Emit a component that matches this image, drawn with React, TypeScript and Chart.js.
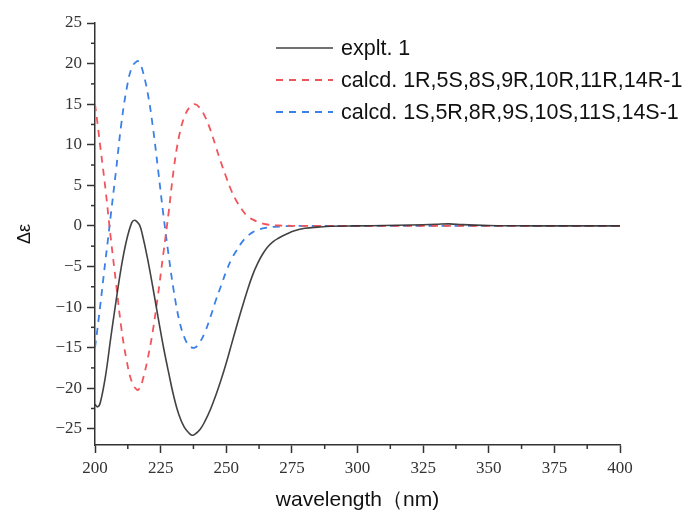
import { useEffect, useRef } from 'react';
import { Chart, registerables } from 'chart.js';

Chart.register(...registerables);

const wlExp = [200, 201, 202, 204, 206, 208, 210, 212, 214, 215, 216, 217, 218, 220, 222, 224, 226, 228, 230, 232, 234, 236, 237, 238, 240, 242, 244, 246, 248, 250, 252, 254, 256, 258, 260, 262, 264, 266, 268, 270, 273, 276, 280, 285, 290, 300, 310, 320, 330, 335, 340, 350, 360, 375, 390, 400];
const valExp = [-22.0, -22.3, -21.8, -18.5, -13.8, -9.3, -5.1, -1.8, 0.4, 0.7, 0.5, 0.1, -1.0, -4.0, -7.5, -11.2, -14.8, -18.0, -21.0, -23.3, -24.8, -25.6, -25.8, -25.7, -25.1, -24.0, -22.6, -20.9, -19.0, -16.9, -14.6, -12.3, -10.1, -8.0, -6.1, -4.6, -3.4, -2.5, -1.9, -1.5, -1.0, -0.6, -0.3, -0.15, -0.05, 0, 0.05, 0.1, 0.2, 0.25, 0.15, 0.05, 0.02, 0, 0, 0];

const wlCalc = [200, 201, 202, 203, 204, 205, 206, 208, 210, 212, 214, 216, 217, 218, 220, 222, 224, 226, 228, 230, 232, 234, 236, 238, 240, 242, 244, 246, 248, 250, 252, 254, 256, 258, 260, 262, 265, 270, 280, 300, 340, 400];
const valRS = [15.0, 12.5, 9.8, 7.2, 4.5, 1.5, -1.5, -7.0, -12.5, -16.5, -19.2, -20.2, -20.0, -19.2, -16.5, -13.0, -8.5, -3.5, 1.5, 7.0, 11.0, 13.4, 14.6, 15.0, 14.5, 13.4, 11.8, 9.8, 7.8, 6.0, 4.3, 3.0, 2.0, 1.2, 0.8, 0.5, 0.2, 0.05, 0, 0, 0, 0];
const valSR = [-15.0, -12.5, -9.8, -7.0, -4.2, -1.5, 1.3, 6.8, 12.5, 16.8, 19.5, 20.3, 20.1, 19.3, 16.5, 12.3, 7.0, 1.5, -3.5, -8.0, -11.5, -13.7, -14.8, -15.0, -14.3, -13.0, -11.2, -9.2, -7.4, -5.6, -4.1, -3.0, -2.0, -1.3, -0.8, -0.5, -0.25, -0.08, 0, 0, 0, 0];

const seriesLabels = ['explt. 1', 'calcd. 1R,5S,8S,9R,10R,11R,14R-1', 'calcd. 1S,5R,8R,9S,10S,11S,14S-1'];
const xMajorTicks = [200, 225, 250, 275, 300, 325, 350, 375, 400];
const yMajorTicks = [-25, -20, -15, -10, -5, 0, 5, 10, 15, 20, 25];

const toPts = (xs: number[], ys: number[]) => xs.map((x, i) => ({ x, y: ys[i] }));

const axisColor = '#333333';

const extrasPlugin = {
  id: 'extras',
  afterDraw(chart: any) {
    const ctx = chart.ctx;
    const xs = chart.scales.x;
    const ys = chart.scales.y;
    const area = chart.chartArea;
    ctx.save();
    ctx.strokeStyle = axisColor;
    ctx.lineWidth = 1.5;
    for (let i = 0; i < xMajorTicks.length - 1; i++) {
      const v = (xMajorTicks[i] + xMajorTicks[i + 1]) / 2;
      const px = xs.getPixelForValue(v);
      ctx.beginPath();
      ctx.moveTo(px, area.bottom);
      ctx.lineTo(px, area.bottom + 4);
      ctx.stroke();
    }
    for (let i = 0; i < yMajorTicks.length - 1; i++) {
      const v = (yMajorTicks[i] + yMajorTicks[i + 1]) / 2;
      const py = ys.getPixelForValue(v);
      ctx.beginPath();
      ctx.moveTo(area.left, py);
      ctx.lineTo(area.left - 4, py);
      ctx.stroke();
    }
    // legend
    const rows = [48, 80, 112];
    const x0 = 276, x1 = 333, tx = 341;
    ctx.font = '21.5px "Liberation Sans", Arial, sans-serif';
    ctx.textBaseline = 'middle';
    ctx.textAlign = 'left';
    chart.data.datasets.forEach((ds: any, i: number) => {
      const y = rows[i];
      ctx.strokeStyle = ds.borderColor;
      ctx.lineWidth = ds.borderWidth;
      ctx.setLineDash(ds.borderDash || []);
      ctx.beginPath();
      ctx.moveTo(x0, y);
      ctx.lineTo(x1, y);
      ctx.stroke();
      ctx.setLineDash([]);
      ctx.fillStyle = '#111';
      ctx.fillText(ds.label, tx, y + 1);
    });
    ctx.restore();
  },
};

const fmt = (v: number) => (v < 0 ? '\u2212' + Math.abs(v) : String(v));

export default function App() {
  const ref = useRef<HTMLCanvasElement | null>(null);
  useEffect(() => {
    document.body.style.margin = '0';
    const canvas = ref.current!;
    const tickFont = { family: '"Liberation Serif", "Times New Roman", serif', size: 17 };
    const chart = new Chart(canvas, {
      type: 'line',
      data: {
        datasets: [
          {
            label: seriesLabels[0],
            data: toPts(wlExp, valExp),
            borderColor: 'rgba(45,45,45,0.9)',
            borderWidth: 1.6,
            pointRadius: 0,
            tension: 0.4,
          },
          {
            label: seriesLabels[1],
            data: toPts(wlCalc, valRS),
            borderColor: '#f2545b',
            borderWidth: 1.8,
            borderDash: [7, 6],
            pointRadius: 0,
            tension: 0.4,
          },
          {
            label: seriesLabels[2],
            data: toPts(wlCalc, valSR),
            borderColor: '#3a80e8',
            borderWidth: 1.8,
            borderDash: [7, 6],
            pointRadius: 0,
            tension: 0.4,
          },
        ],
      },
      options: {
        animation: false,
        responsive: false,
        layout: { padding: { top: 23, right: 72, left: 0, bottom: 0 } },
        plugins: { legend: { display: false }, tooltip: { enabled: false } },
        scales: {
          x: {
            type: 'linear',
            min: 200,
            max: 400,
            afterBuildTicks: (s: any) => { s.ticks = xMajorTicks.map((v) => ({ value: v })); },
            afterFit: (s: any) => { s.height = 68; },
            ticks: { stepSize: 25, font: tickFont, color: '#333', padding: 5, maxRotation: 0, callback: (v: any) => fmt(Number(v)) },
            grid: { drawOnChartArea: false, drawTicks: true, tickLength: 8, tickColor: axisColor, tickWidth: 1.5 },
            border: { display: true, color: axisColor, width: 1.5 },
            title: {
              display: true,
              text: 'wavelength（nm)',
              font: { family: '"Liberation Sans", Arial, sans-serif', size: 21 },
              color: '#111',
              padding: { top: 0, bottom: 0 },
            },
          },
          y: {
            type: 'linear',
            min: -27,
            max: 25,
            afterBuildTicks: (s: any) => { s.ticks = yMajorTicks.map((v) => ({ value: v })); },
            afterFit: (s: any) => { s.width = 95; },
            ticks: { stepSize: 5, font: tickFont, color: '#333', padding: 5, callback: (v: any) => fmt(Number(v)) },
            grid: { drawOnChartArea: false, drawTicks: true, tickLength: 8, tickColor: axisColor, tickWidth: 1.5 },
            border: { display: true, color: axisColor, width: 1.5 },
            title: {
              display: true,
              text: 'Δε',
              font: { family: '"Liberation Sans", Arial, sans-serif', size: 18 },
              color: '#111',
              padding: { top: 14, bottom: 0 },
            },
          },
        },
      },
      plugins: [extrasPlugin],
    });
    return () => chart.destroy();
  }, []);
  return (
    <div style={{ position: 'absolute', left: 0, top: 0, width: 692, height: 513 }}>
      <canvas ref={ref} width={692} height={513} style={{ width: 692, height: 513 }} />
    </div>
  );
}
